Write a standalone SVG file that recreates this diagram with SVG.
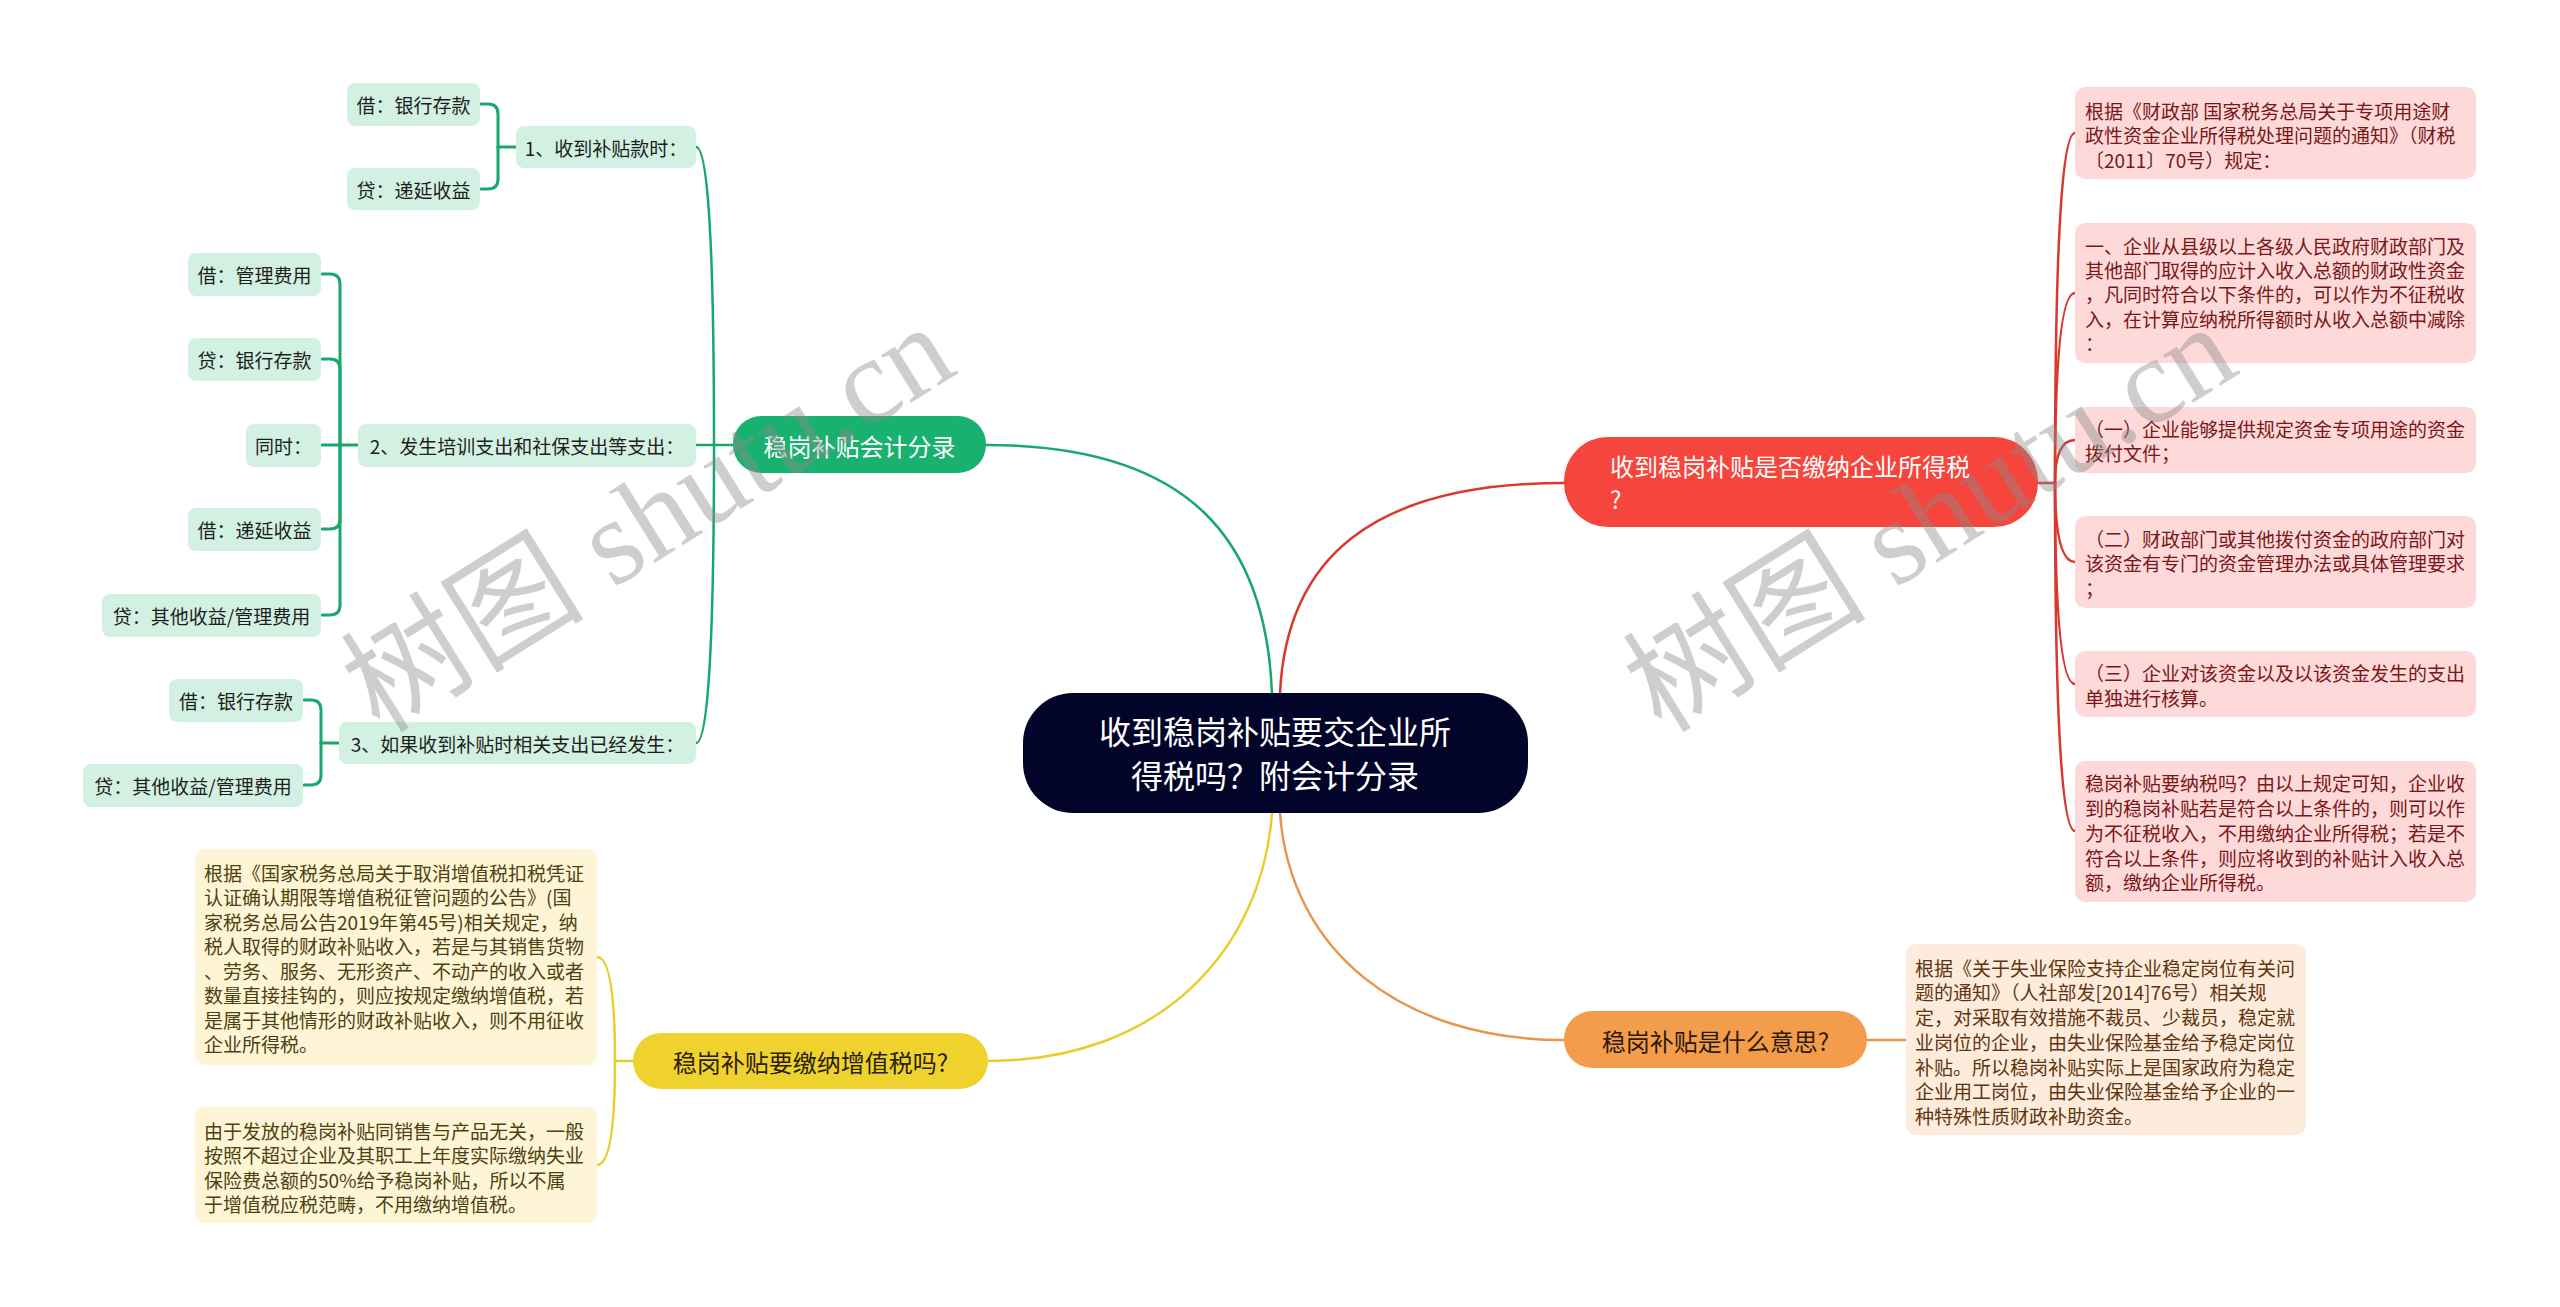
<svg xmlns="http://www.w3.org/2000/svg" width="2560" height="1307" viewBox="0 0 2560 1307">
<style>
text{font-family:"Noto Sans CJK SC","Noto Sans",sans-serif;}
.ln{fill:none;stroke-linecap:round;stroke-linejoin:round}
.lg{stroke:#17a86c;stroke-width:2.5}
.lg3{stroke:#17a86c;stroke-width:3}
.lr{stroke:#d9382f;stroke-width:2.5}
.lo{stroke:#e8964c;stroke-width:2.5}
.ly{stroke:#e9cd2e;stroke-width:2.5}
.gs{fill:#d2f1e3}
.gt{font-size:19px;fill:#1d1d1d;text-anchor:middle;dominant-baseline:central}
.rl{fill:#fdd9d9}
.rt{font-size:19px;fill:#7a1616;dominant-baseline:central}
.ol{fill:#fdebdb}
.ot{font-size:19px;fill:#5e3510;dominant-baseline:central}
.yl{fill:#fdf5d5}
.yt{font-size:19px;fill:#4d410f;dominant-baseline:central}
.mt{font-size:24px;dominant-baseline:central}
.wm{font-family:"Liberation Serif","Noto Sans CJK SC",serif;font-size:122px;fill:#8a8a8a;fill-opacity:0.42;text-anchor:middle;dominant-baseline:central}
</style>
<rect width="2560" height="1307" fill="#ffffff"/>

<g id="connectors">
  <path class="ln lg" d="M1272 694 C1266 540 1190 445 986 445"/>
  <path class="ln lr" d="M1280 694 C1286 560 1370 483 1564 483"/>
  <path class="ln ly" d="M1272 813 C1262 950 1160 1061 988 1061"/>
  <path class="ln lo" d="M1280 813 C1290 950 1400 1040 1564 1040"/>
  <path class="ln lg" d="M733 445 L714 445"/>
  <path class="ln lg" d="M714 445 Q714 147 696 147"/>
  <path class="ln lg" d="M714 445 L696 445"/>
  <path class="ln lg" d="M714 445 Q714 743 696 743"/>
  <path class="ln lg3" d="M516 147 L498 147"/>
  <path class="ln lg3" d="M498 147 L498 114 Q498 104 488 104 L481 104"/>
  <path class="ln lg3" d="M498 147 L498 179 Q498 189 488 189 L481 189"/>
  <path class="ln lg3" d="M358 445 L322 445"/>
  <path class="ln lg3" d="M340 445 L340 284 Q340 274 330 274 L322 274"/>
  <path class="ln lg3" d="M340 445 L340 369 Q340 359 330 359 L322 359"/>
  <path class="ln lg3" d="M340 445 L340 519 Q340 529 330 529 L322 529"/>
  <path class="ln lg3" d="M340 445 L340 605 Q340 615 330 615 L322 615"/>
  <path class="ln lg3" d="M339 743 L321 743"/>
  <path class="ln lg3" d="M321 743 L321 710 Q321 700 311 700 L304 700"/>
  <path class="ln lg3" d="M321 743 L321 775 Q321 785 311 785 L304 785"/>
  <path class="ln lr" d="M2038 483 L2055 483"/>
  <path class="ln lr" d="M2055 483 Q2055 133 2075 133"/>
  <path class="ln lr" d="M2055 483 Q2055 293 2075 293"/>
  <path class="ln lr" d="M2055 483 Q2055 440 2075 440"/>
  <path class="ln lr" d="M2055 483 Q2055 562 2075 562"/>
  <path class="ln lr" d="M2055 483 Q2055 684 2075 684"/>
  <path class="ln lr" d="M2055 483 Q2055 831 2075 831"/>
  <path class="ln lo" d="M1867 1040 L1906 1040"/>
  <path class="ln ly" d="M633 1061 L615 1061"/>
  <path class="ln ly" d="M615 1061 Q615 957 597 957"/>
  <path class="ln ly" d="M615 1061 Q615 1165 597 1165"/>
</g>

<g id="root">
  <rect x="1023" y="693" width="505" height="120" rx="50" fill="#02042a"/>
  <text x="1275" y="730" font-size="32" fill="#ffffff" text-anchor="middle" dominant-baseline="central">收到稳岗补贴要交企业所</text>
  <text x="1275" y="774" font-size="32" fill="#ffffff" text-anchor="middle" dominant-baseline="central">得税吗？附会计分录</text>
</g>

<g id="main-green">
  <rect x="733" y="416" width="253" height="57" rx="28" fill="#19b16f"/>
  <text class="mt" x="859.5" y="445" fill="#ffffff" text-anchor="middle">稳岗补贴会计分录</text>
</g>
<g id="main-red">
  <rect x="1564" y="437" width="474" height="90" rx="44" fill="#f5453c"/>
  <text class="mt" x="1610" y="465" fill="#ffffff">收到稳岗补贴是否缴纳企业所得税</text>
  <text class="mt" x="1610" y="498" fill="#ffffff">?</text>
</g>
<g id="main-orange">
  <rect x="1564" y="1011" width="303" height="57" rx="28" fill="#f39d4c"/>
  <text class="mt" x="1715.5" y="1040" fill="#2c1a08" text-anchor="middle">稳岗补贴是什么意思?</text>
</g>
<g id="main-yellow">
  <rect x="633" y="1033" width="355" height="56" rx="28" fill="#f0d22e"/>
  <text class="mt" x="810.5" y="1061" fill="#2a2206" text-anchor="middle">稳岗补贴要缴纳增值税吗?</text>
</g>

<g id="g1">
  <rect class="gs" x="516" y="126" width="180" height="42" rx="8"/>
  <text class="gt" x="606" y="147">1、收到补贴款时：</text>
</g>
<g id="g1a">
  <rect class="gs" x="347" y="83" width="133" height="43" rx="8"/>
  <text class="gt" x="413.5" y="104.5">借：银行存款</text>
</g>
<g id="g1b">
  <rect class="gs" x="347" y="168" width="133" height="42" rx="8"/>
  <text class="gt" x="413.5" y="189">贷：递延收益</text>
</g>
<g id="g2">
  <rect class="gs" x="358" y="424" width="338" height="43" rx="8"/>
  <text class="gt" x="527" y="445">2、发生培训支出和社保支出等支出：</text>
</g>
<g id="g2a">
  <rect class="gs" x="188" y="253" width="133" height="43" rx="8"/>
  <text class="gt" x="254.5" y="274.5">借：管理费用</text>
</g>
<g id="g2b">
  <rect class="gs" x="188" y="338" width="133" height="43" rx="8"/>
  <text class="gt" x="254.5" y="359.5">贷：银行存款</text>
</g>
<g id="g2c">
  <rect class="gs" x="246" y="424" width="75" height="43" rx="8"/>
  <text class="gt" x="283.5" y="445.5">同时：</text>
</g>
<g id="g2d">
  <rect class="gs" x="188" y="508" width="133" height="43" rx="8"/>
  <text class="gt" x="254.5" y="529.5">借：递延收益</text>
</g>
<g id="g2e">
  <rect class="gs" x="102" y="594" width="219" height="43" rx="8"/>
  <text class="gt" x="211.5" y="615.5">贷：其他收益/管理费用</text>
</g>
<g id="g3">
  <rect class="gs" x="339" y="722" width="357" height="42" rx="8"/>
  <text class="gt" x="517.5" y="743">3、如果收到补贴时相关支出已经发生：</text>
</g>
<g id="g3a">
  <rect class="gs" x="169" y="679" width="134" height="43" rx="8"/>
  <text class="gt" x="236" y="700.5">借：银行存款</text>
</g>
<g id="g3b">
  <rect class="gs" x="83" y="764" width="220" height="43" rx="8"/>
  <text class="gt" x="193" y="785.5">贷：其他收益/管理费用</text>
</g>

<g id="r1">
  <rect class="rl" x="2075" y="87" width="401" height="92" rx="10"/>
  <text class="rt" x="2085" y="110">根据《财政部 国家税务总局关于专项用途财</text>
  <text class="rt" x="2085" y="134">政性资金企业所得税处理问题的通知》（财税</text>
  <text class="rt" x="2085" y="159">〔2011〕70号）规定：</text>
</g>
<g id="r2">
  <rect class="rl" x="2075" y="223" width="401" height="140" rx="10"/>
  <text class="rt" x="2085" y="245">一、企业从县级以上各级人民政府财政部门及</text>
  <text class="rt" x="2085" y="269">其他部门取得的应计入收入总额的财政性资金</text>
  <text class="rt" x="2085" y="293">，凡同时符合以下条件的，可以作为不征税收</text>
  <text class="rt" x="2085" y="318">入，在计算应纳税所得额时从收入总额中减除</text>
  <text class="rt" x="2085" y="342">：</text>
</g>
<g id="r3">
  <rect class="rl" x="2075" y="407" width="401" height="66" rx="10"/>
  <text class="rt" x="2085" y="428">（一）企业能够提供规定资金专项用途的资金</text>
  <text class="rt" x="2085" y="452">拨付文件；</text>
</g>
<g id="r4">
  <rect class="rl" x="2075" y="516" width="401" height="92" rx="10"/>
  <text class="rt" x="2085" y="538">（二）财政部门或其他拨付资金的政府部门对</text>
  <text class="rt" x="2085" y="562">该资金有专门的资金管理办法或具体管理要求</text>
  <text class="rt" x="2085" y="587">；</text>
</g>
<g id="r5">
  <rect class="rl" x="2075" y="651" width="401" height="66" rx="10"/>
  <text class="rt" x="2085" y="672">（三）企业对该资金以及以该资金发生的支出</text>
  <text class="rt" x="2085" y="697">单独进行核算。</text>
</g>
<g id="r6">
  <rect class="rl" x="2075" y="761" width="401" height="141" rx="10"/>
  <text class="rt" x="2085" y="782">稳岗补贴要纳税吗？由以上规定可知，企业收</text>
  <text class="rt" x="2085" y="807">到的稳岗补贴若是符合以上条件的，则可以作</text>
  <text class="rt" x="2085" y="832">为不征税收入，不用缴纳企业所得税；若是不</text>
  <text class="rt" x="2085" y="857">符合以上条件，则应将收到的补贴计入收入总</text>
  <text class="rt" x="2085" y="881">额，缴纳企业所得税。</text>
</g>

<g id="o1">
  <rect class="ol" x="1906" y="944" width="400" height="191" rx="10"/>
  <text class="ot" x="1915" y="967">根据《关于失业保险支持企业稳定岗位有关问</text>
  <text class="ot" x="1915" y="991">题的通知》（人社部发[2014]76号）相关规</text>
  <text class="ot" x="1915" y="1016">定，对采取有效措施不裁员、少裁员，稳定就</text>
  <text class="ot" x="1915" y="1041">业岗位的企业，由失业保险基金给予稳定岗位</text>
  <text class="ot" x="1915" y="1066">补贴。所以稳岗补贴实际上是国家政府为稳定</text>
  <text class="ot" x="1915" y="1090">企业用工岗位，由失业保险基金给予企业的一</text>
  <text class="ot" x="1915" y="1115">种特殊性质财政补助资金。</text>
</g>

<g id="y1">
  <rect class="yl" x="195" y="849" width="402" height="216" rx="10"/>
  <text class="yt" x="204" y="872">根据《国家税务总局关于取消增值税扣税凭证</text>
  <text class="yt" x="204" y="896">认证确认期限等增值税征管问题的公告》(国</text>
  <text class="yt" x="204" y="921">家税务总局公告2019年第45号)相关规定，纳</text>
  <text class="yt" x="204" y="945">税人取得的财政补贴收入，若是与其销售货物</text>
  <text class="yt" x="204" y="970">、劳务、服务、无形资产、不动产的收入或者</text>
  <text class="yt" x="204" y="994">数量直接挂钩的，则应按规定缴纳增值税，若</text>
  <text class="yt" x="204" y="1019">是属于其他情形的财政补贴收入，则不用征收</text>
  <text class="yt" x="204" y="1043">企业所得税。</text>
</g>
<g id="y2">
  <rect class="yl" x="195" y="1107" width="402" height="116" rx="10"/>
  <text class="yt" x="204" y="1130">由于发放的稳岗补贴同销售与产品无关，一般</text>
  <text class="yt" x="204" y="1154">按照不超过企业及其职工上年度实际缴纳失业</text>
  <text class="yt" x="204" y="1179">保险费总额的50%给予稳岗补贴，所以不属</text>
  <text class="yt" x="204" y="1203">于增值税应税范畴，不用缴纳增值税。</text>
</g>

<g id="watermarks">
  <text class="wm" transform="translate(648 518) rotate(-32)">树图 shutu.cn</text>
  <text class="wm" transform="translate(1930 518) rotate(-32)">树图 shutu.cn</text>
</g>
</svg>
